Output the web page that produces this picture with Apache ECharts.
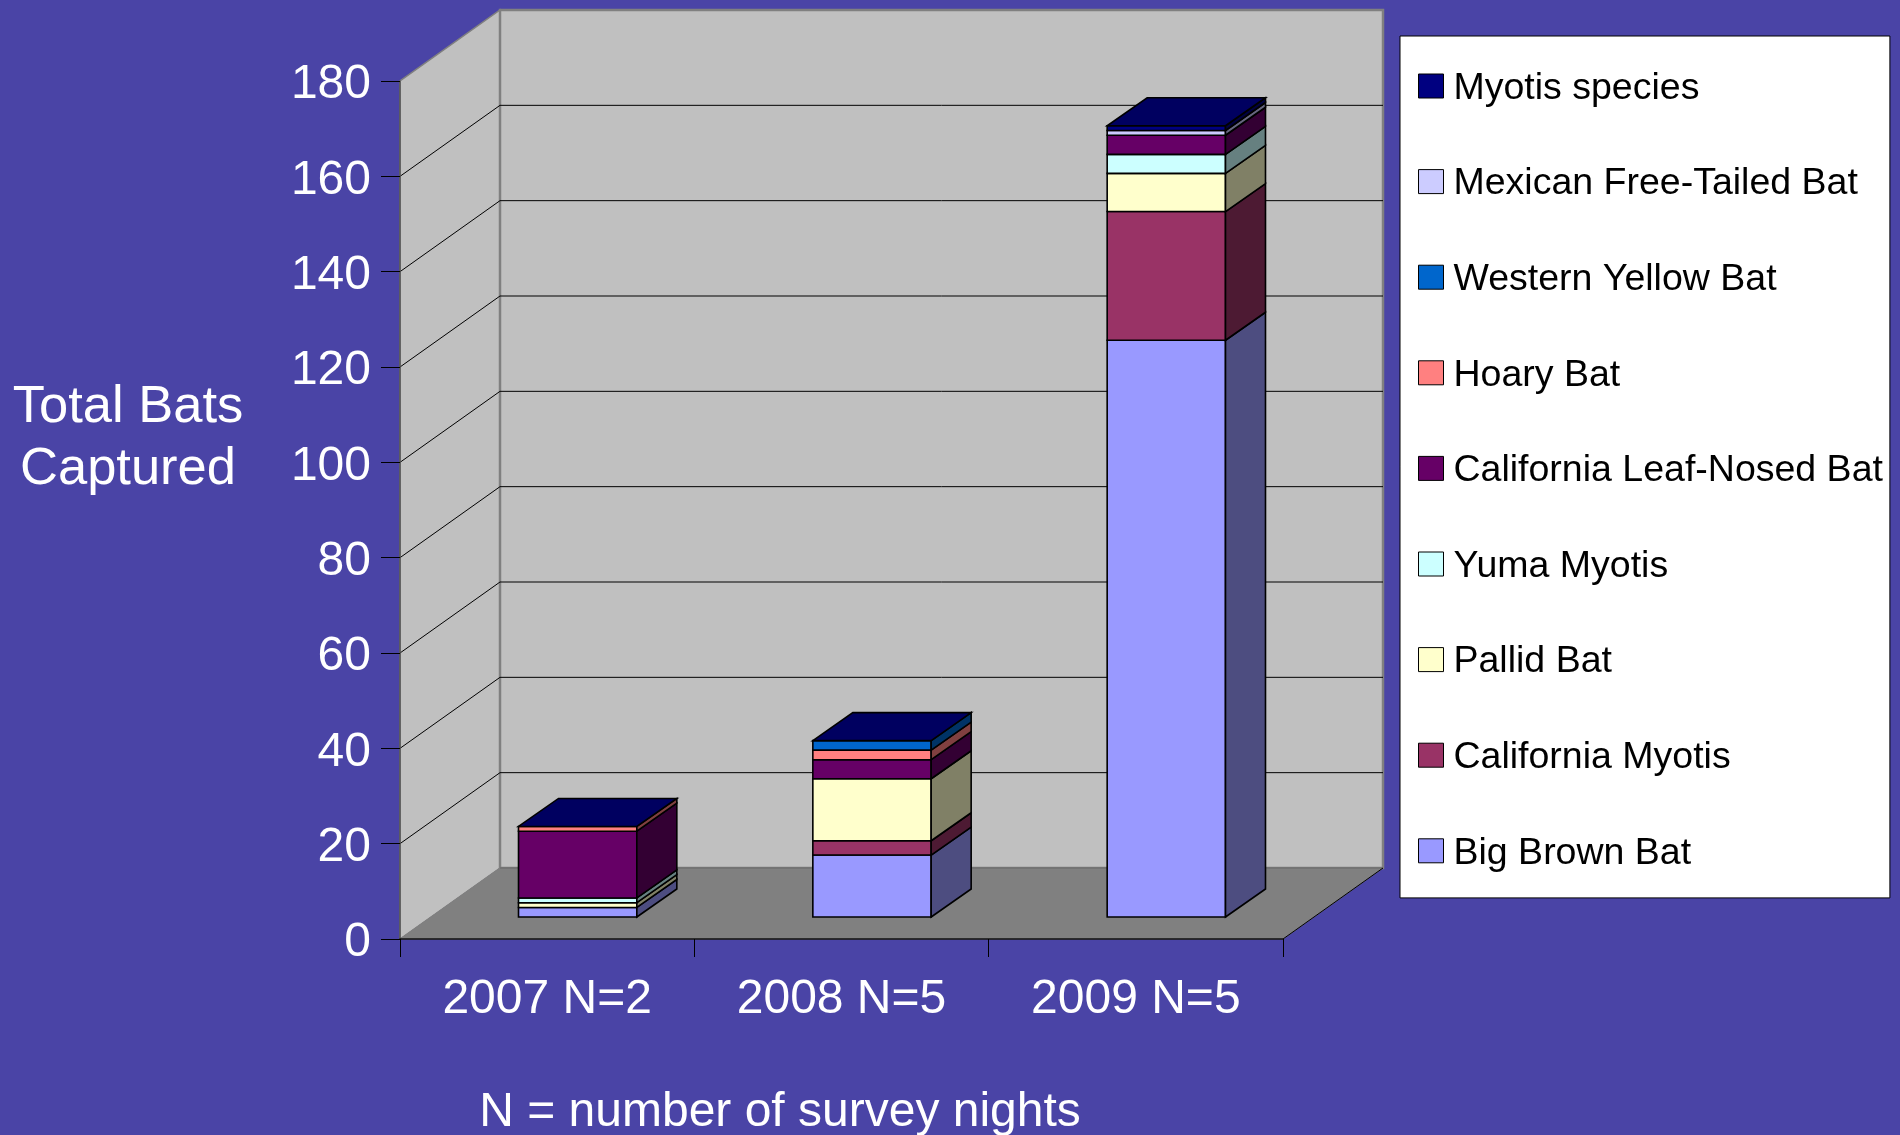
<!DOCTYPE html>
<html>
<head>
<meta charset="utf-8">
<style>html,body{margin:0;padding:0;background:#4A44A6}#chart{width:1900px;height:1135px}</style>
<script src="https://cdn.jsdelivr.net/npm/echarts@6/dist/echarts.min.js"></script>
</head>
<body>
<div id="chart"></div>
<script>
const categories = ['2007 N=2', '2008 N=5', '2009 N=5'];
const yTicks = [0, 20, 40, 60, 80, 100, 120, 140, 160, 180];

const bigBrownBat = [2, 13, 121];
const californiaMyotis = [0, 3, 27];
const pallidBat = [1, 13, 8];
const yumaMyotis = [1, 0, 4];
const californiaLeafNosedBat = [14, 4, 4];
const hoaryBat = [1, 2, 0];
const westernYellowBat = [0, 2, 0];
const mexicanFreeTailedBat = [0, 0, 1];
const myotisSpecies = [0, 0, 1];

const speciesNames = ['Big Brown Bat', 'California Myotis', 'Pallid Bat', 'Yuma Myotis',
  'California Leaf-Nosed Bat', 'Hoary Bat', 'Western Yellow Bat', 'Mexican Free-Tailed Bat', 'Myotis species'];
const speciesValues = [bigBrownBat, californiaMyotis, pallidBat, yumaMyotis,
  californiaLeafNosedBat, hoaryBat, westernYellowBat, mexicanFreeTailedBat, myotisSpecies];
const speciesColors = ['#9999FF', '#993366', '#FFFFCC', '#CCFFFF', '#660066', '#FF8080', '#0066CC', '#CCCCFF', '#000080'];

const WALL_DX = 100, WALL_DY = -71;
const BAR_DX = 30.5, BAR_DY = -22;
const DEPTH_DX = 40, DEPTH_DY = -28;
const BAR_RATIO = 0.402;

function shade(hex, f) {
  const n = parseInt(hex.slice(1), 16);
  const c = [(n >> 16) & 255, (n >> 8) & 255, n & 255].map(v => Math.round(v * f));
  return 'rgb(' + c.join(',') + ')';
}

function poly(points, fill, stroke, lw) {
  return { type: 'polygon', shape: { points }, style: { fill, stroke, lineWidth: lw } };
}

function line(a, b, stroke, lw) {
  return { type: 'line', shape: { x1: a[0], y1: a[1], x2: b[0], y2: b[1] }, style: { stroke, lineWidth: lw, fill: null } };
}

function renderWalls(params, api) {
  const o = api.coord([0, 0]);
  const w = api.size([1, 0])[0] * categories.length;
  const left = o[0] - api.size([1, 0])[0] / 2;
  const right = left + w;
  const yb = o[1];
  const yt = api.coord([0, yTicks[yTicks.length - 1]])[1];
  const back = (p) => [p[0] + WALL_DX, p[1] + WALL_DY];
  const children = [];
  children.push(poly([[left, yb], back([left, yb]), back([left, yt]), [left, yt]], '#C0C0C0', '#808080', 1.5));
  children.push(poly([back([left, yb]), back([right, yb]), back([right, yt]), back([left, yt])], '#C0C0C0', '#808080', 2.5));
  children.push(poly([[left, yb], [right, yb], back([right, yb]), back([left, yb])], '#808080', '#808080', 1));
  children.push(line(back([left, yb]), back([right, yb]), '#737373', 2));
  yTicks.forEach(t => {
    if (t === 0 || t === yTicks[yTicks.length - 1]) return;
    const y = api.coord([0, t])[1];
    children.push(line([left, y], back([left, y]), '#000', 1));
    children.push(line(back([left, y]), back([right, y]), '#000', 1));
  });
  children.push(line([right, yb], back([right, yb]), '#000', 1));
  return { type: 'group', children };
}

function makeRenderBar(isLast) {
  return function (params, api) {
    const cat = api.value(0), from = api.value(1), to = api.value(2);
    const color = api.visual('color');
    const c0 = api.coord([cat, from]);
    const c1 = api.coord([cat, to]);
    const half = api.size([1, 0])[0] * BAR_RATIO / 2;
    const x0 = c0[0] - half + BAR_DX, x1 = c0[0] + half + BAR_DX;
    const yb = c0[1] + BAR_DY, yt = c1[1] + BAR_DY;
    const children = [];
    if (to > from) {
      children.push(poly([[x0, yb], [x1, yb], [x1, yt], [x0, yt]], color, '#000', 1.6));
      children.push(poly([[x1, yb], [x1 + DEPTH_DX, yb + DEPTH_DY], [x1 + DEPTH_DX, yt + DEPTH_DY], [x1, yt]], shade(color, 0.5), '#000', 1.6));
    }
    if (isLast) {
      children.push(poly([[x0, yt], [x1, yt], [x1 + DEPTH_DX, yt + DEPTH_DY], [x0 + DEPTH_DX, yt + DEPTH_DY]], shade(color, 0.75), '#000', 1.6));
    }
    return { type: 'group', children };
  };
}

const barSeries = speciesNames.map((name, s) => {
  const data = categories.map((c, i) => {
    let base = 0;
    for (let k = 0; k < s; k++) base += speciesValues[k][i];
    return [i, base, base + speciesValues[s][i]];
  });
  return {
    name, type: 'custom', z: 3, clip: false,
    itemStyle: { color: speciesColors[s] },
    encode: { x: 0, y: [1, 2] },
    renderItem: makeRenderBar(s === speciesNames.length - 1),
    data
  };
});

const chart = echarts.init(document.getElementById('chart'), null, { renderer: 'canvas' });
chart.setOption({
  animation: false,
  backgroundColor: '#4A44A6',
  textStyle: { fontFamily: 'Liberation Sans' },
  title: [
    { text: 'Total Bats\nCaptured', left: 123, top: 372, textAlign: 'center',
      textStyle: { color: '#fff', fontSize: 52.5, fontWeight: 'normal', lineHeight: 62, fontFamily: 'Liberation Sans' } },
    { text: 'N = number of survey nights', left: 775, top: 1084, textAlign: 'center',
      textStyle: { color: '#fff', fontSize: 48, fontWeight: 'normal', fontFamily: 'Liberation Sans' } }
  ],
  grid: { left: 400, top: 81, width: 883, height: 858, containLabel: false },
  xAxis: {
    type: 'category', data: categories, z: 1,
    axisLine: { show: true, lineStyle: { color: '#111', width: 1.5 } },
    axisTick: { show: true, alignWithLabel: false, length: 18, lineStyle: { color: '#000', width: 1 } },
    axisLabel: { color: '#fff', fontSize: 48, margin: 37, fontFamily: 'Liberation Sans' },
    splitLine: { show: false }
  },
  yAxis: {
    type: 'value', min: 0, max: 180, interval: 20, z: 1,
    axisLine: { show: true, lineStyle: { color: '#555', width: 1.5 } },
    axisTick: { show: true, length: 19, lineStyle: { color: '#000', width: 1 } },
    axisLabel: { color: '#fff', fontSize: 48, margin: 29, verticalAlign: 'top', lineHeight: 8, fontFamily: 'Liberation Sans' },
    splitLine: { show: false }
  },
  legend: {
    orient: 'vertical', left: 1400, top: 36, selectedMode: false,
    data: speciesNames.slice().reverse(),
    icon: 'rect', itemWidth: 25, itemHeight: 24, itemGap: 52.6,
    padding: [28.5, 7, 25.6, 18],
    backgroundColor: '#fff', borderColor: '#000', borderWidth: 1,
    itemStyle: { borderColor: '#000', borderWidth: 1 },
    formatter: '{a|{name}}',
    textStyle: {
      color: '#000', fontSize: 37.5, fontFamily: 'Liberation Sans',
      rich: { a: { color: '#000', fontSize: 37.5, lineHeight: 40, padding: [5, 0, 0, 5], fontFamily: 'Liberation Sans' } }
    }
  },
  series: [
    { name: 'walls', type: 'custom', z: 0, clip: false, silent: true, renderItem: renderWalls,
      encode: { x: 0, y: 1 }, data: [[0, 0]] }
  ].concat(barSeries)
});
</script>
</body>
</html>
